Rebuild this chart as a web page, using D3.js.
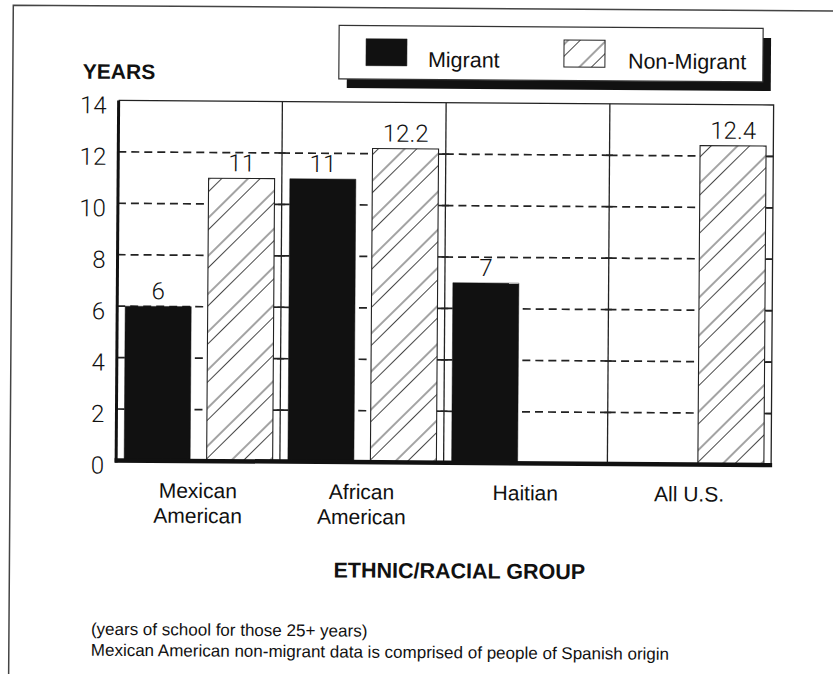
<!DOCTYPE html>
<html>
<head>
<meta charset="utf-8">
<script src="https://cdn.jsdelivr.net/npm/d3@7"></script>
<style>
  html, body { margin: 0; padding: 0; background: #fff; }
  svg { display: block; }
  text { font-family: "Liberation Sans", Arial, Helvetica, sans-serif; fill: #111; }
  .num { font-family: Roboto, "Liberation Sans", Arial, sans-serif; font-weight: 300; }
</style>
</head>
<body>
<svg id="chart" width="833" height="674"></svg>
<script>
// Years of school completed, persons 25+
const categories = ["Mexican American", "African American", "Haitian", "All U.S."];
const categoryLines = [["Mexican", "American"], ["African", "American"], ["Haitian"], ["All U.S."]];
const series = ["Migrant", "Non-Migrant"];
const migrant = [6, 11, 7, null];
const nonMigrant = [11, 12.2, null, 12.4];
const yTicks = [0, 2, 4, 6, 8, 10, 12, 14];
const gridTicks = [2, 4, 6, 8, 10, 12];
const footnotes = [
  "(years of school for those 25+ years)",
  "Mexican American non-migrant data is comprised of people of Spanish origin"
];

const svg = d3.select("#chart");

// hatch fill for non-migrant bars
const defs = svg.append("defs");
const hatch = defs.append("pattern")
  .attr("id", "hatch")
  .attr("patternUnits", "userSpaceOnUse")
  .attr("width", 10).attr("height", 27)
  .attr("patternTransform", "rotate(-45)");
hatch.append("rect").attr("width", 10).attr("height", 27).attr("fill", "#fff");
[3, 11.5].forEach(yy => hatch.append("line")
  .attr("x1", -1).attr("x2", 11).attr("y1", yy).attr("y2", yy)
  .attr("stroke", "#333").attr("stroke-width", 0.9));

const fills = { "Migrant": "#111", "Non-Migrant": "url(#hatch)" };

// whole page sits slightly tilted
const page = svg.append("g").attr("transform", "rotate(0.4, 416, 337)");

// page frame
page.append("path")
  .attr("d", "M11,690 L11,8 L860,8")
  .attr("fill", "none").attr("stroke", "#444").attr("stroke-width", 1.5);

const x = d3.scaleBand().domain(categories).range([117, 772]);
const xs = d3.scaleBand().domain(series).range([8, x.bandwidth() - 7.25]).paddingInner(0.2);
const y = d3.scaleLinear().domain([0, 14]).range([462.5, 102.5]);

// dashed grid, restarted in every group
const gridG = page.append("g");
categories.forEach(c => {
  gridG.selectAll(null).data(gridTicks).join("line")
    .attr("x1", x(c)).attr("x2", x(c) + x.bandwidth())
    .attr("y1", d => y(d)).attr("y2", d => y(d))
    .attr("stroke", "#222").attr("stroke-width", 1.7)
    .attr("stroke-dasharray", "8,5");
});

// group dividers with small ticks
const dividers = categories.slice(1).map(c => x(c));
page.selectAll(".divider").data(dividers).join("line")
  .attr("x1", d => d).attr("x2", d => d)
  .attr("y1", y(14)).attr("y2", y(0))
  .attr("stroke", "#222").attr("stroke-width", 1.3);
dividers.forEach(dx => {
  page.selectAll(null).data(gridTicks).join("line")
    .attr("x1", dx - 3.5).attr("x2", dx + 3.5)
    .attr("y1", d => y(d)).attr("y2", d => y(d))
    .attr("stroke", "#222").attr("stroke-width", 1.5);
});

// plot frame: top and right edges
const right = x.range()[1];
page.append("path")
  .attr("d", `M${x.range()[0]},${y(14)} L${right},${y(14)} L${right},${y(0)}`)
  .attr("fill", "none").attr("stroke", "#222").attr("stroke-width", 1.3);
page.selectAll(".rtick").data(gridTicks).join("line")
  .attr("x1", right - 6).attr("x2", right)
  .attr("y1", d => y(d)).attr("y2", d => y(d))
  .attr("stroke", "#222").attr("stroke-width", 1.5);

// bars
const rows = categories.map((c, i) => ({ c, values: [
  { s: "Migrant", v: migrant[i] }, { s: "Non-Migrant", v: nonMigrant[i] }
].filter(d => d.v != null) }));

const groups = page.selectAll(".grp").data(rows).join("g")
  .attr("transform", d => `translate(${x(d.c)},0)`);

groups.selectAll("rect").data(d => d.values).join("rect")
  .attr("x", d => xs(d.s))
  .attr("y", d => y(d.v))
  .attr("width", xs.bandwidth())
  .attr("height", d => y(0) - y(d.v))
  .attr("fill", d => fills[d.s])
  .attr("stroke", d => d.s === "Migrant" ? "#111" : "#222")
  .attr("stroke-width", d => d.s === "Migrant" ? 0.5 : 1.1);

groups.selectAll("text").data(d => d.values).join("text")
  .attr("class", "num")
  .attr("x", d => xs(d.s) + xs.bandwidth() / 2)
  .attr("y", d => y(d.v) - 7)
  .attr("text-anchor", "middle")
  .attr("font-size", 24)
  .text(d => d3.format("~g")(d.v));

// y axis
const yAxis = page.append("g")
  .attr("transform", `translate(${x.range()[0]},0)`)
  .call(d3.axisLeft(y).tickValues(yTicks).tickSize(0).tickPadding(12).tickFormat(d3.format("d")));
yAxis.select(".domain").remove();
yAxis.selectAll("text")
  .attr("class", "num")
  .attr("font-size", 24)
  .attr("font-family", null)
  .attr("fill", "#111")
  .attr("dy", "0.32em")
  .attr("transform", "translate(0,5)");

// thick left axis and baseline
page.append("line")
  .attr("x1", x.range()[0]).attr("x2", x.range()[0])
  .attr("y1", y(14)).attr("y2", y(0) + 2)
  .attr("stroke", "#111").attr("stroke-width", 3);
page.append("line")
  .attr("x1", x.range()[0] - 1.5).attr("x2", right + 1)
  .attr("y1", y(0)).attr("y2", y(0))
  .attr("stroke", "#111").attr("stroke-width", 4.5);

// category labels
page.selectAll(".cat").data(categories).join("text")
  .attr("class", "cat")
  .attr("x", d => x(d) + x.bandwidth() / 2)
  .attr("y", 499.5)
  .attr("text-anchor", "middle")
  .attr("font-size", 21)
  .selectAll("tspan").data((d, i) => categoryLines[i]).join("tspan")
    .attr("x", function () { return d3.select(this.parentNode).attr("x"); })
    .attr("dy", (d, i) => i === 0 ? 0 : 25)
    .text(d => d);

// axis titles
page.append("text")
  .attr("x", 81).attr("y", 81)
  .attr("font-size", 21).attr("font-weight", "bold")
  .text("YEARS");
page.append("text")
  .attr("x", 461).attr("y", 578)
  .attr("text-anchor", "middle")
  .attr("font-size", 21.5).attr("font-weight", "bold")
  .text("ETHNIC/RACIAL GROUP");

// legend
const lg = page.append("g").attr("transform", "translate(337,26)");
lg.append("rect").attr("x", 8).attr("y", 9).attr("width", 424).attr("height", 53.5).attr("fill", "#111");
lg.append("rect").attr("x", 0).attr("y", 0).attr("width", 424).attr("height", 53.5)
  .attr("fill", "#fff").attr("stroke", "#333").attr("stroke-width", 1.2);
const legendX = [27, 225];
const items = lg.selectAll(".item").data(series).join("g")
  .attr("transform", (d, i) => `translate(${legendX[i]},13)`);
items.append("rect")
  .attr("width", 41).attr("height", 27)
  .attr("fill", d => fills[d])
  .attr("stroke", "#222").attr("stroke-width", d => d === "Migrant" ? 0.5 : 1);
items.append("text")
  .attr("x", (d, i) => i === 0 ? 62 : 64).attr("y", 28)
  .attr("font-size", 21.5)
  .text(d => d);

// footnotes
page.selectAll(".note").data(footnotes).join("text")
  .attr("class", "note")
  .attr("x", 93)
  .attr("y", (d, i) => 637 + i * 21)
  .attr("font-size", 17)
  .text(d => d);
</script>
</body>
</html>
